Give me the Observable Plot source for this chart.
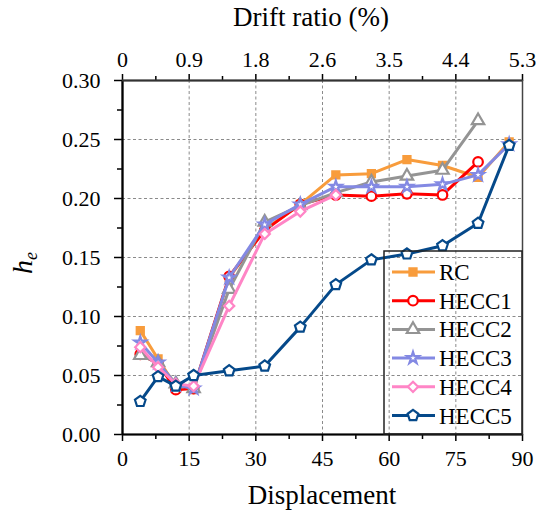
<!DOCTYPE html>
<html><head><meta charset="utf-8">
<script src="https://cdn.jsdelivr.net/npm/d3@7"></script>
<script src="https://cdn.jsdelivr.net/npm/@observablehq/plot@0.6"></script>
<style>body{margin:0;background:#fff}</style>
</head><body><div id="chart"></div>
<script>
// ---- data ----
const displacement = [4, 8, 12, 16, 24, 32, 40, 48, 56, 64, 72, 80, 87];
const seriesNames = ["RC", "HECC1", "HECC2", "HECC3", "HECC4", "HECC5"];
const RC    = [0.088, 0.064, 0.041, 0.038, 0.133, 0.174, 0.195, 0.220, 0.221, 0.233, 0.228, 0.218, 0.248];
const HECC1 = [0.068, 0.060, 0.038, 0.039, 0.134, 0.173, 0.195, 0.203, 0.202, 0.204, 0.203, 0.231];
const HECC2 = [0.067, 0.061, 0.043, 0.039, 0.123, 0.180, 0.194, 0.205, 0.214, 0.219, 0.224, 0.266];
const HECC3 = [0.078, 0.061, 0.042, 0.039, 0.133, 0.178, 0.195, 0.210, 0.210, 0.210, 0.212, 0.220, 0.246];
const HECC4 = [0.074, 0.057, 0.043, 0.041, 0.109, 0.170, 0.189, 0.203];
const HECC5 = [0.028, 0.049, 0.041, 0.050, 0.054, 0.058, 0.091, 0.127, 0.148, 0.153, 0.160, 0.179, 0.245];
const xTicks = [0, 15, 30, 45, 60, 75, 90];
const xMinorTicks = [7.5, 22.5, 37.5, 52.5, 67.5, 82.5];
const driftLabels = ["0", "0.9", "1.8", "2.6", "3.5", "4.4", "5.3"];
const yTicks = [0, 0.05, 0.10, 0.15, 0.20, 0.25, 0.30];
const yMinorTicks = [0.025, 0.075, 0.125, 0.175, 0.225, 0.275];

// ---- styles ----
const colors = ["#F89C3C", "#FF0000", "#949494", "#8389E3", "#FF85C6", "#05498A"];
const pentagon = {
  draw(ctx, size) {
    const r = Math.sqrt(size / Math.PI) * 1.12;
    for (let i = 0; i < 5; i++) {
      const a = -Math.PI / 2 + i * 2 * Math.PI / 5;
      const px = r * Math.cos(a), py = r * Math.sin(a);
      if (i === 0) ctx.moveTo(px, py); else ctx.lineTo(px, py);
    }
    ctx.closePath();
  }
};
const symbols = [d3.symbolSquare, d3.symbolCircle, d3.symbolTriangle, d3.symbolStar, d3.symbolDiamond2, pentagon];
const radii = [4, 4.8, 4.6, 3.7, 4.6, 5];
const fills = [colors[0], "white", "white", "white", "white", "white"];

const allValues = [RC, HECC1, HECC2, HECC3, HECC4, HECC5];
const seriesData = allValues.map((vals, k) => vals.map((v, i) => ({series: seriesNames[k], x: displacement[i], y: v})));

const gridStyle = {stroke: "#8a8a8a", strokeDasharray: "3,2.5", strokeWidth: 1};
const seriesMarks = seriesData.flatMap((data, k) => [
  Plot.line(data, {x: "x", y: "y", stroke: colors[k], strokeWidth: 3}),
  Plot.dot(data, {x: "x", y: "y", symbol: symbols[k], r: radii[k], stroke: colors[k], strokeWidth: 2.2, fill: fills[k]})
]);

const W = 539, H = 517, mL = 122, mR = 17, mT = 80, mB = 83;
const font = "'Liberation Serif', 'Times New Roman', serif";
const svg = Plot.plot({
  width: W, height: H,
  marginLeft: mL, marginRight: mR, marginTop: mT, marginBottom: mB,
  style: {fontFamily: font, background: "white", color: "black"},
  x: {domain: [0, 90]},
  y: {domain: [0, 0.30]},
  marks: [
    Plot.ruleX(xTicks.slice(1, -1), gridStyle),
    Plot.ruleY(yTicks.slice(1, -1), gridStyle),
    Plot.axisX({anchor: "bottom", ticks: xTicks, tickSize: 7, tickPadding: 9, fontSize: 22, label: null, strokeWidth: 1.5}),
    Plot.axisX({anchor: "bottom", ticks: xMinorTicks, tickSize: 5, tickFormat: () => "", label: null, strokeWidth: 1.5}),
    Plot.axisX({anchor: "top", ticks: xTicks, tickSize: 7, tickPadding: 7, fontSize: 22, label: null, strokeWidth: 1.5,
      tickFormat: d => driftLabels[xTicks.indexOf(d)]}),
    Plot.axisX({anchor: "top", ticks: xMinorTicks, tickSize: 5, tickFormat: () => "", label: null, strokeWidth: 1.5}),
    Plot.axisY({anchor: "left", ticks: yTicks, tickSize: 8, tickPadding: 14, fontSize: 22, label: null, strokeWidth: 1.5,
      tickFormat: d => d.toFixed(2)}),
    Plot.axisY({anchor: "left", ticks: yMinorTicks, tickSize: 5, tickFormat: () => "", label: null, strokeWidth: 1.5}),
    Plot.frame({stroke: "#444", strokeWidth: 1.5}),
    Plot.ruleX([0], {stroke: "black", strokeWidth: 2.2}),
    Plot.ruleY([0], {stroke: "black", strokeWidth: 2.2}),
    Plot.ruleY([0.30], {stroke: "#333", strokeWidth: 2}),
    ...seriesMarks
  ]
});
document.getElementById("chart").appendChild(svg);

// ---- titles & legend ----
const s = d3.select(svg);
s.append("text").attr("x", (mL + W - mR) / 2).attr("y", H - 13).attr("text-anchor", "middle")
  .style("font-family", font).style("font-size", "27px").text("Displacement");
s.append("text").attr("x", 311).attr("y", 26).attr("text-anchor", "middle")
  .style("font-family", font).style("font-size", "27px").text("Drift ratio (%)");
const yl = s.append("text").attr("transform", `translate(32,263) rotate(-90)`).attr("text-anchor", "middle")
  .style("font-family", font).style("font-style", "italic").style("font-size", "28px");
yl.append("tspan").text("h");
yl.append("tspan").attr("dy", 5).style("font-size", "18px").text("e");

const lg = s.append("g");
const boxRight = W - mR, boxBottom = H - mB, boxLeft = 384, boxTop = 251;
lg.append("rect").attr("x", boxLeft).attr("y", boxTop).attr("width", boxRight - boxLeft).attr("height", boxBottom - boxTop)
  .attr("fill", "none").attr("stroke", "#222").attr("stroke-width", 1.5);
seriesNames.forEach((name, k) => {
  const cy = boxTop + 21 + k * 28.7;
  lg.append("line").attr("x1", 392).attr("x2", 435).attr("y1", cy).attr("y2", cy)
    .attr("stroke", colors[k]).attr("stroke-width", 3);
  lg.append("path").attr("transform", `translate(413,${cy})`)
    .attr("d", d3.symbol(symbols[k], radii[k] * radii[k] * Math.PI)())
    .attr("fill", fills[k]).attr("stroke", colors[k]).attr("stroke-width", 2.2);
  lg.append("text").attr("x", 439).attr("y", cy).attr("dy", "0.35em").attr("text-anchor", "start")
    .style("font-family", font).style("font-size", "23px").text(name);
});
</script>
</body></html>
